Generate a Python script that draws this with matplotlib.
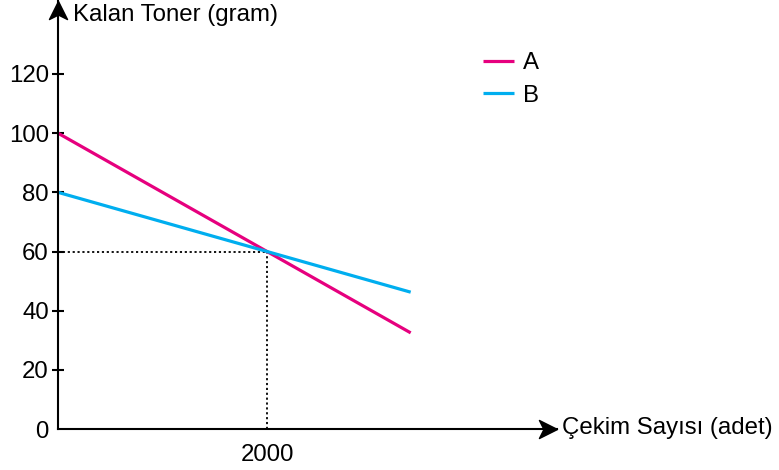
import matplotlib.pyplot as plt
from matplotlib.path import Path

plt.rcParams['font.family'] = ['Liberation Sans', 'DejaVu Sans']

# data
copies = [0, 2000, 3375]
toner_a = [100, 60, 32.5]
toner_b = [80, 60, 46.25]
y_ticks = [0, 20, 40, 60, 80, 100, 120]
x_ticks = [2000]
meet_x, meet_y = 2000, 60

col_a = '#e6007e'
col_b = '#00aeef'
fs = 17.3

W, H = 779, 470
fig = plt.figure(figsize=(W / 100, H / 100), dpi=100)
# origin at pixel (58, 429), arrow tips at x=557 and y=1
ox, oy, tipx, tipy = 58, 429, 557, 1
ax = fig.add_axes([ox / W, (H - oy) / H, (tipx - ox) / W, (oy - tipy) / H])
ax.set_xlim(0, (tipx - ox) * 2000 / 209)
ax.set_ylim(0, (oy - tipy) * 120 / 355)

for s in ['top', 'right']:
    ax.spines[s].set_visible(False)
for s in ['left', 'bottom']:
    ax.spines[s].set_linewidth(1.5)

ax.plot([0, meet_x], [meet_y, meet_y], color='black', lw=1.3, ls=(0, (1.2, 1.5)))
ax.plot([meet_x, meet_x], [0, meet_y], color='black', lw=1.3, ls=(0, (1.2, 1.5)))

ax.plot(copies, toner_a, color=col_a, lw=2.3, label='A', solid_capstyle='butt')
ax.plot(copies, toner_b, color=col_b, lw=2.3, label='B', solid_capstyle='butt')

ax.set_yticks(y_ticks)
ax.set_yticklabels([str(v) for v in y_ticks], fontsize=fs)
ax.set_xticks(x_ticks)
ax.set_xticklabels([str(v) for v in x_ticks], fontsize=fs)
ax.tick_params(axis='y', direction='inout', length=9, width=1.5, pad=2)
ax.tick_params(axis='x', length=0, pad=11)
ax.get_yticklines()[0].set_visible(False)

# arrowheads
head = Path([(0, 0), (-0.5, -1.0), (0, -0.75), (0.5, -1.0), (0, 0)],
            [Path.MOVETO, Path.LINETO, Path.LINETO, Path.LINETO, Path.CLOSEPOLY])
ax.plot([0], [1], marker=head, markersize=26, color='black', transform=ax.transAxes, clip_on=False)
head_r = Path([(0, 0), (-1.0, 0.5), (-0.75, 0), (-1.0, -0.5), (0, 0)],
              [Path.MOVETO, Path.LINETO, Path.LINETO, Path.LINETO, Path.CLOSEPOLY])
ax.plot([1], [0], marker=head_r, markersize=26, color='black', transform=ax.transAxes, clip_on=False)

fig.text(73 / W, 1 - 15 / H, 'Kalan Toner (gram)', fontsize=fs, va='center', ha='left')
fig.text(562 / W, 1 - 428 / H, 'Çekim Sayısı (adet)', fontsize=fs, va='center', ha='left')

ax.legend(loc='upper left', bbox_to_anchor=((483 - ox) / (tipx - ox), (oy - 52) / (oy - tipy)),
          frameon=False, fontsize=fs, handlelength=1.29, handletextpad=0.37, labelspacing=0.45,
          borderaxespad=0, borderpad=0)

fig.savefig('out.png', dpi=100)
